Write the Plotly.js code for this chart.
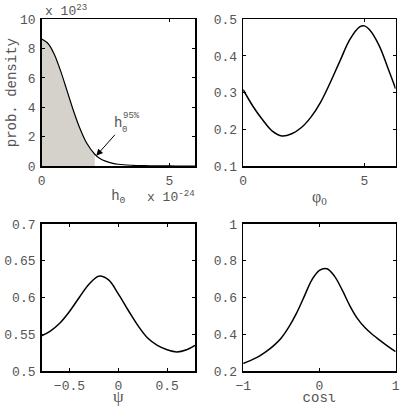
<!DOCTYPE html>
<html>
<head>
<meta charset="utf-8">
<script src="https://cdn.plot.ly/plotly-3.0.1.min.js"></script>
<style>html,body{margin:0;padding:0;background:#fff;}#chart{width:400px;height:406px;}</style>
</head>
<body>
<div id="chart"></div>
<script>
// Panel 1: h0 posterior (x in units of 1e-24, y in units of 1e23)
const h0X = [0, 0.25, 0.5, 0.75, 1.0, 1.25, 1.5, 1.75, 2.08, 2.25, 2.5, 2.75, 3.0, 3.5, 4.0, 4.5, 5.0, 5.5, 6.0];
const h0Y = [8.65, 8.35, 7.6, 6.45, 5.1, 3.75, 2.55, 1.6, 0.8, 0.55, 0.33, 0.2, 0.12, 0.05, 0.02, 0.008, 0.003, 0.001, 0];
const h0Upper95 = 2.08;
// Panel 2: phi0
const phiX = [0, 0.4, 0.8, 1.2, 1.6, 2.0, 2.4, 2.8, 3.2, 3.6, 4.0, 4.4, 4.8, 5.0, 5.2, 5.6, 6.0, 6.2832];
const phiY = [0.308, 0.263, 0.226, 0.195, 0.182, 0.188, 0.205, 0.234, 0.275, 0.329, 0.388, 0.445, 0.479, 0.482, 0.472, 0.429, 0.361, 0.311];
// Panel 3: psi
const psiX = [-0.7854, -0.7, -0.6, -0.5, -0.4, -0.3, -0.2, -0.1, 0.0, 0.1, 0.2, 0.3, 0.4, 0.5, 0.6, 0.7, 0.7854];
const psiY = [0.548, 0.554, 0.565, 0.581, 0.600, 0.618, 0.629, 0.624, 0.605, 0.583, 0.562, 0.545, 0.535, 0.529, 0.526, 0.529, 0.535];
// Panel 4: cos iota
const ciX = [-1, -0.9, -0.8, -0.7, -0.6, -0.5, -0.4, -0.3, -0.2, -0.1, 0.0, 0.1, 0.2, 0.3, 0.4, 0.5, 0.6, 0.7, 0.8, 0.9, 1];
const ciY = [0.241, 0.258, 0.278, 0.305, 0.338, 0.38, 0.44, 0.515, 0.605, 0.695, 0.748, 0.756, 0.715, 0.64, 0.555, 0.485, 0.435, 0.397, 0.365, 0.334, 0.305];

const shadeX = h0X.filter(v => v <= h0Upper95);
const shadeY = h0Y.slice(0, shadeX.length);

const mono = 'Liberation Mono, Courier New, monospace';
const txt = '#555';
const tickFont = {family: mono, size: 13, color: txt};
const titleFont = {family: mono, size: 14, color: txt};

function ax(domain, range, extra) {
  return Object.assign({
    domain: domain, range: range, showline: true, linecolor: '#000', linewidth: 1.5,
    mirror: 'ticks', ticks: 'inside', ticklen: 3, tickcolor: '#000', tickwidth: 1,
    showgrid: false, zeroline: false, tickfont: tickFont, ticklabelstandoff: 2
  }, extra || {});
}

const dxL = [0.104, 0.4875], dxR = [0.608, 0.989];
const dyT = [0.5911, 0.9525], dyB = [0.0862, 0.4483];
const sm = {color: '#000', width: 1.5, shape: 'spline', smoothing: 1};

const traces = [
  {x: shadeX, y: shadeY, xaxis: 'x', yaxis: 'y', mode: 'lines', line: {width: 0, shape: 'spline', smoothing: 0.8},
   fill: 'tozeroy', fillcolor: 'rgb(213,210,203)', hoverinfo: 'skip'},
  {x: h0X, y: h0Y, xaxis: 'x', yaxis: 'y', mode: 'lines', line: {color: '#000', width: 1.2, shape: 'spline', smoothing: 0.8}},
  {x: phiX, y: phiY, xaxis: 'x2', yaxis: 'y2', mode: 'lines', line: sm},
  {x: psiX, y: psiY, xaxis: 'x3', yaxis: 'y3', mode: 'lines', line: sm},
  {x: ciX, y: ciY, xaxis: 'x4', yaxis: 'y4', mode: 'lines', line: sm}
];

const layout = {
  width: 400, height: 406, showlegend: false,
  margin: {l: 0, r: 0, t: 0, b: 0},
  paper_bgcolor: '#fff', plot_bgcolor: '#fff',
  xaxis: ax(dxL, [0, 6], {anchor: 'y', tickvals: [0, 5],
    title: {text: 'h<sub>0</sub>', font: titleFont, standoff: 2}}),
  yaxis: ax(dyT, [0, 10], {anchor: 'x', dtick: 2,
    title: {text: 'prob. density', font: titleFont, standoff: 0}}),
  xaxis2: ax(dxR, [0, 2 * Math.PI], {anchor: 'y2', tickvals: [0, 5],
    title: {text: 'φ<sub>0</sub>', font: {family: 'Liberation Serif, serif', size: 16, color: txt}, standoff: 2}}),
  yaxis2: ax(dyT, [0.1, 0.5], {anchor: 'x2', dtick: 0.1}),
  xaxis3: ax(dxL, [-Math.PI / 4, Math.PI / 4], {anchor: 'y3', tickvals: [-0.5, 0, 0.5],
    title: {text: 'ψ', font: {family: 'Liberation Serif, serif', size: 17, color: txt}, standoff: 1}}),
  yaxis3: ax(dyB, [0.5, 0.7], {anchor: 'x3', dtick: 0.05}),
  xaxis4: ax(dxR, [-1, 1], {anchor: 'y4', tickvals: [-1, 0, 1],
    title: {text: 'cosι', font: titleFont, standoff: 1}}),
  yaxis4: ax(dyB, [0.2, 1], {anchor: 'x4', dtick: 0.2}),
  annotations: [
    {xref: 'paper', yref: 'paper', x: 0.1075, y: 0.974, xanchor: 'left', yanchor: 'middle',
     text: 'x 10<sup>23</sup>', showarrow: false, font: {family: mono, size: 13, color: txt}},
    {xref: 'paper', yref: 'paper', x: 0.3625, y: 0.516, xanchor: 'left', yanchor: 'middle',
     text: 'x 10<sup>-24</sup>', showarrow: false, font: {family: mono, size: 13, color: txt}},
    {xref: 'x', yref: 'y', x: 2.14, y: 0.7, axref: 'x', ayref: 'y', ax: 2.92, ay: 2.23,
     text: '', showarrow: true, arrowhead: 2, arrowsize: 1.3, arrowwidth: 1, arrowcolor: '#000', standoff: 0},
    {xref: 'x', yref: 'y', x: 2.99, y: 2.94, text: 'h', showarrow: false, font: {family: mono, size: 14, color: txt}},
    {xref: 'x', yref: 'y', x: 3.52, y: 3.41, text: '95%', showarrow: false, font: {family: mono, size: 9, color: txt}},
    {xref: 'x', yref: 'y', x: 3.26, y: 2.46, text: '0', showarrow: false, font: {family: mono, size: 9, color: txt}}
  ]
};

Plotly.newPlot('chart', traces, layout, {displayModeBar: false, staticPlot: true});
</script>
</body>
</html>
